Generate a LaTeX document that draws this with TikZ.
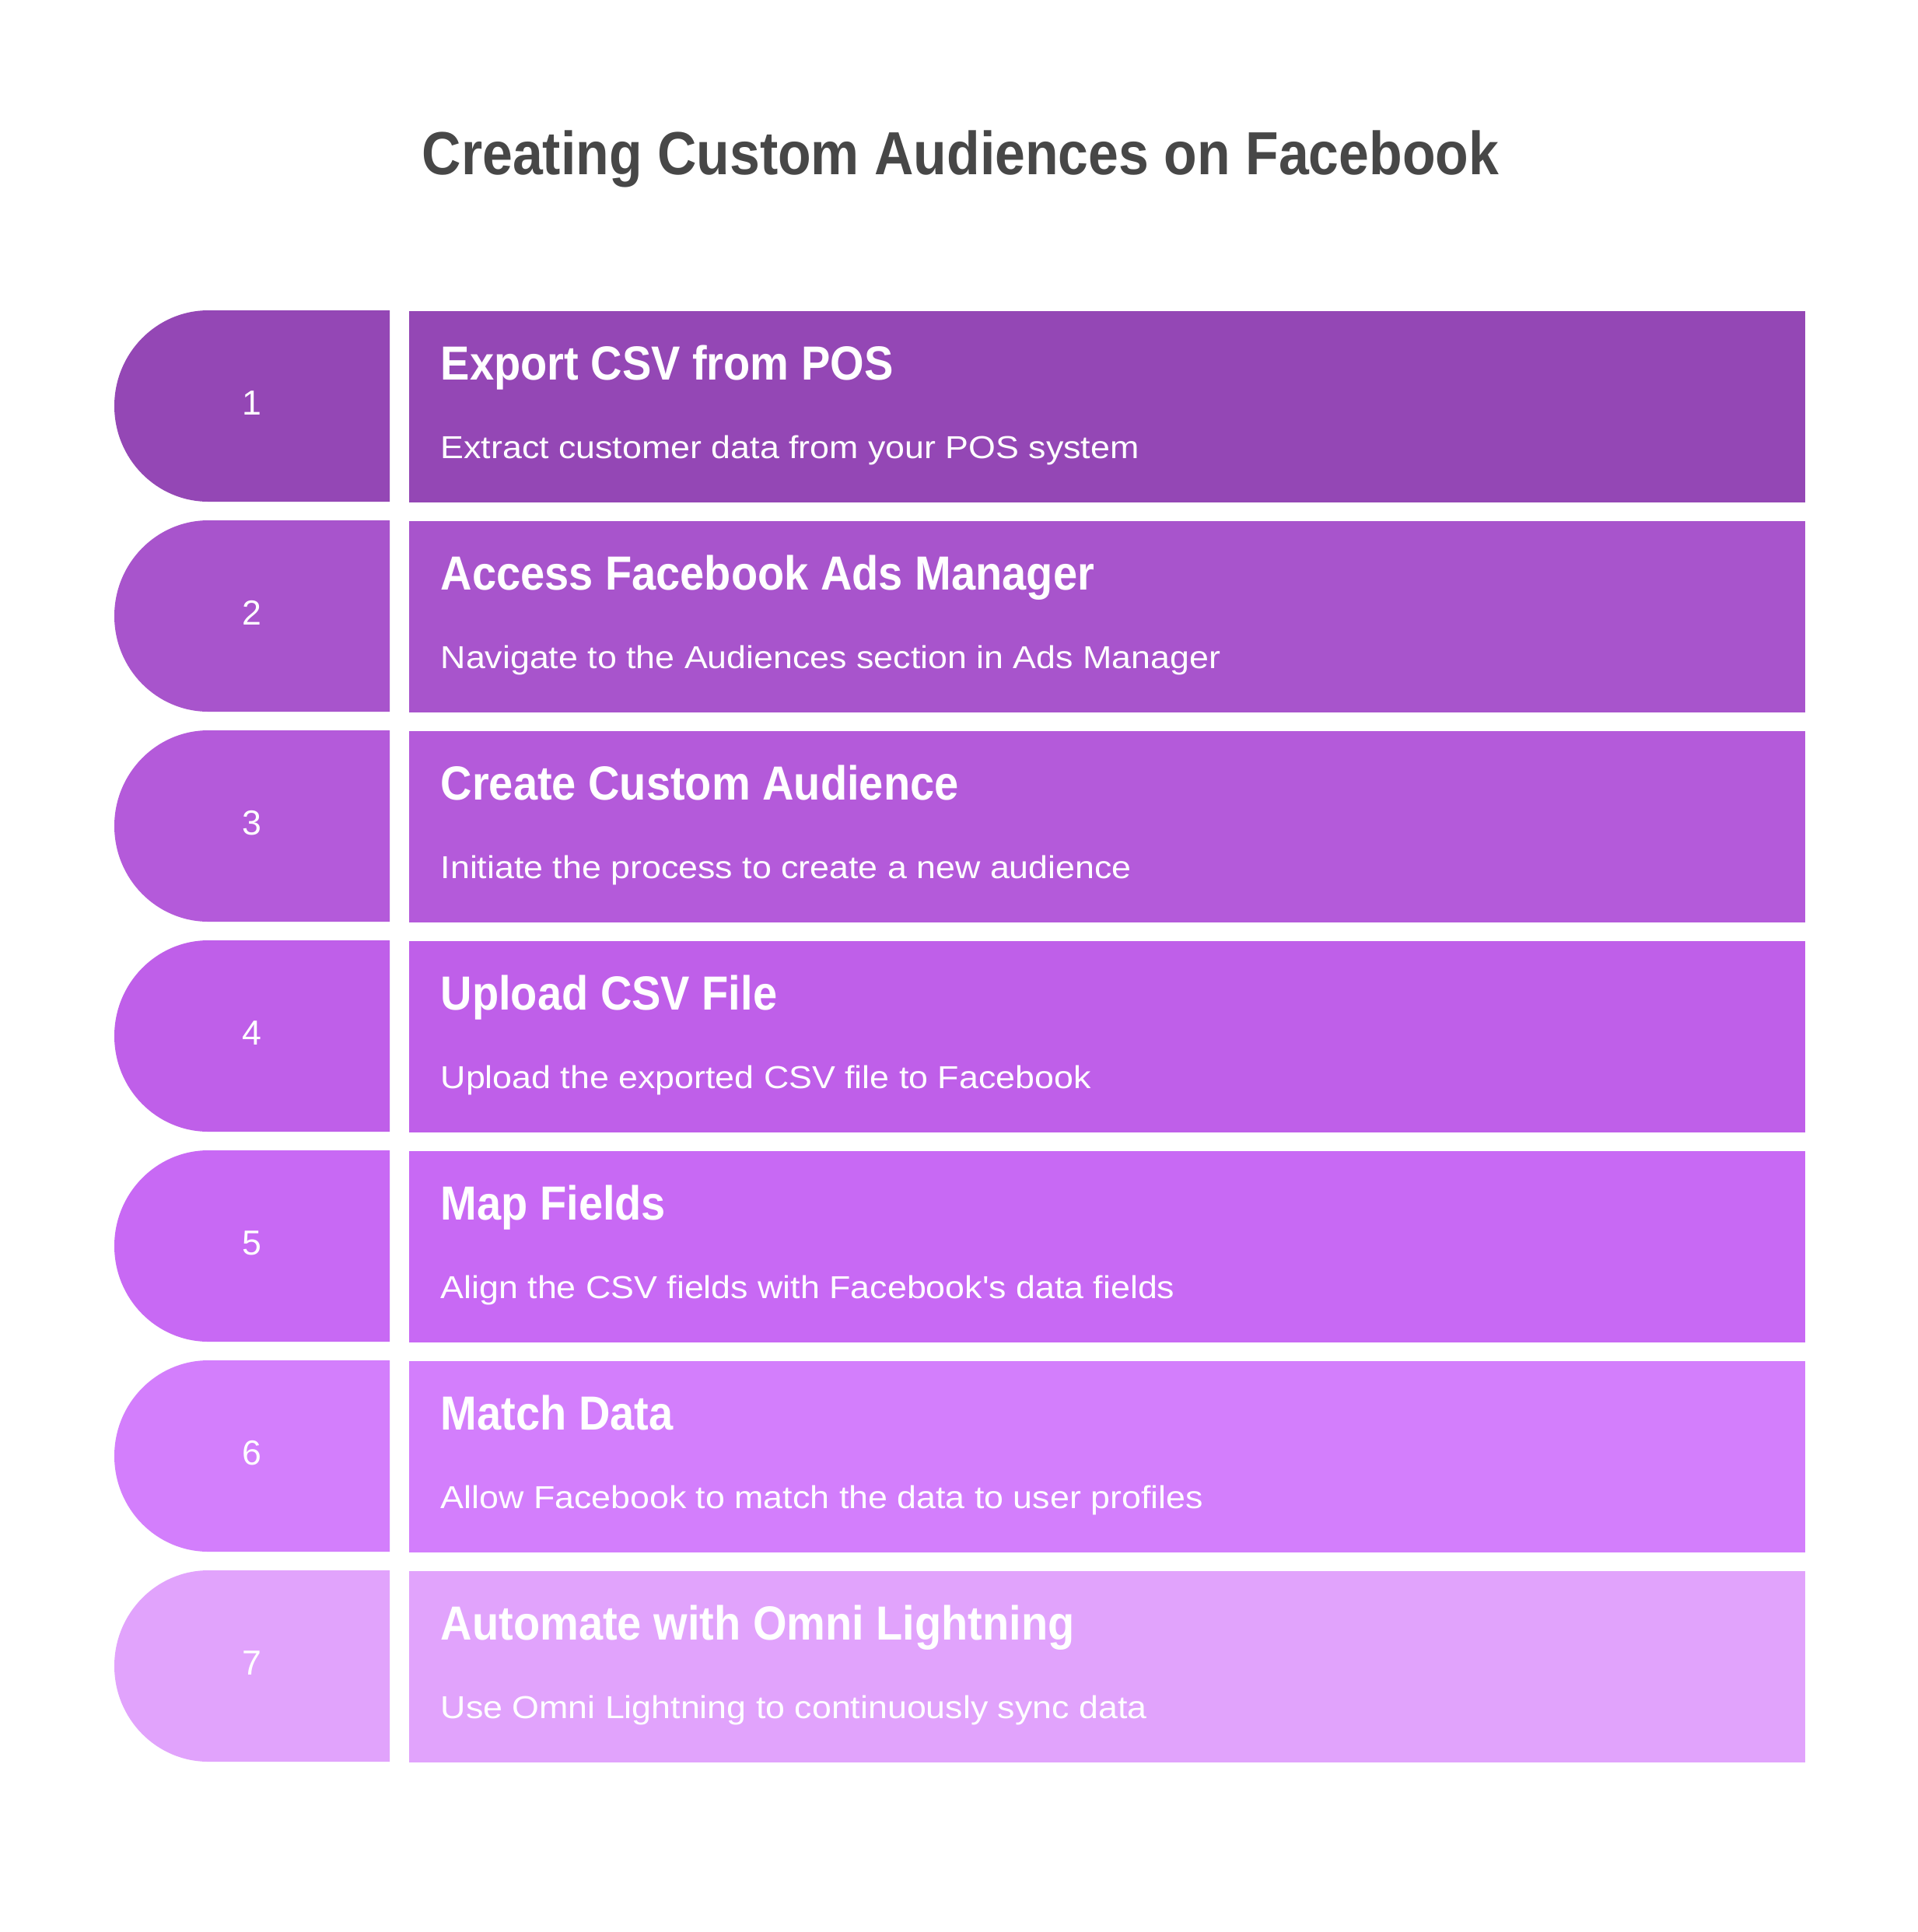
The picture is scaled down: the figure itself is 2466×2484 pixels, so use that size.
\documentclass[tikz,border=0pt]{standalone}
\usepackage{fontspec}
\setmainfont{Liberation Sans}
\definecolor{titlecol}{HTML}{474747}
\definecolor{c1}{HTML}{9447B5}
\definecolor{c2}{HTML}{A854CC}
\definecolor{c3}{HTML}{B45ADA}
\definecolor{c4}{HTML}{BF5FE9}
\definecolor{c5}{HTML}{C869F4}
\definecolor{c6}{HTML}{D37EFC}
\definecolor{c7}{HTML}{E1A3FC}
\newcommand{\hsc}[2]{\scalebox{#1}[1]{#2}}
\tikzset{
  titletext/.style={inner sep=0pt, anchor=base, text=titlecol, font=\fontsize{22.25pt}{26pt}\selectfont\bfseries},
  stepbox/.style={inner sep=0pt, anchor=north west, minimum width=17.94cm, minimum height=2.46cm, draw=none},
  numtext/.style={inner sep=0pt, text=white, font=\fontsize{12.7pt}{15pt}\selectfont},
  headtext/.style={inner sep=0pt, anchor=base west, text=white, font=\fontsize{17.5pt}{20pt}\selectfont\bfseries},
  desctext/.style={inner sep=0pt, anchor=base west, text=white, font=\fontsize{11.6pt}{13pt}\selectfont},
}
\begin{document}
\begin{tikzpicture}[x=0.01cm,y=-0.01cm]
\useasboundingbox[fill=white] (0,0) rectangle (2466,2484);
\node[titletext] (title) at (1235,224) {\hsc{0.892}{Creating Custom Audiences on Facebook}};
\foreach \i/\col/\head/\desc in {
  1/c1/Export CSV from POS/Extract customer data from your POS system,
  2/c2/Access Facebook Ads Manager/Navigate to the Audiences section in Ads Manager,
  3/c3/Create Custom Audience/Initiate the process to create a new audience,
  4/c4/Upload CSV File/Upload the exported CSV file to Facebook,
  5/c5/Map Fields/Align the CSV fields with Facebook\textquotesingle s data fields,
  6/c6/Match Data/Allow Facebook to match the data to user profiles,
  7/c7/Automate with Omni Lightning/Use Omni Lightning to continuously sync data}{
  \pgfmathsetmacro\t{399+270*(\i-1)}
  \fill[\col] (501,\t) -- (268,\t) arc[start angle=270, end angle=90, x radius=121, y radius=123] -- (501,\t+246) -- cycle;
  \node[stepbox, fill=\col] (box\i) at (525,\t) {};
  \node[numtext] (num\i) at (324,\t+119) {\i};
  \node[headtext] (head\i) at (566,\t+89) {\hsc{0.91}{\head}};
  \node[desctext] (desc\i) at (566,\t+190) {\hsc{1.097}{\desc}};
}
\end{tikzpicture}
\end{document}
